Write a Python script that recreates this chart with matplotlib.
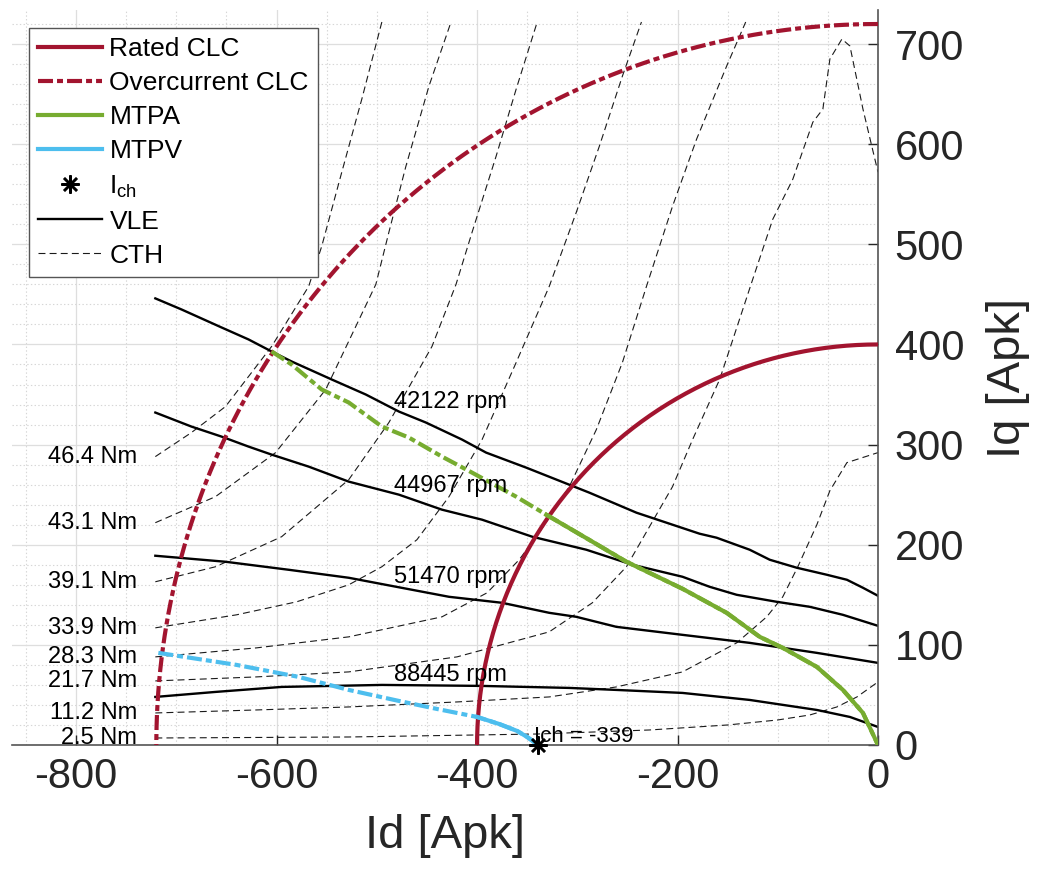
import numpy as np
import matplotlib
matplotlib.use("Agg")
import matplotlib.pyplot as plt
from matplotlib.ticker import MultipleLocator

plt.rcParams['font.family'] = ['Liberation Sans', 'DejaVu Sans']
plt.rcParams['mathtext.fontset'] = 'custom'
plt.rcParams['mathtext.rm'] = 'Liberation Sans'
plt.rcParams['mathtext.it'] = 'Liberation Sans'
plt.rcParams['lines.scale_dashes'] = False
plt.rcParams['axes.unicode_minus'] = False

# current limits [Apk]
i_rated = 400
i_over = 720

# MTPA / MTPV trajectories (Id, Iq)
mtpa_id = [-605, -585, -555, -528, -495, -468, -435, -405, -361, -331, -290, -251,
           -195, -151, -118, -95, -61, -35, -15, 0]
mtpa_iq = [393, 380, 355, 342, 318, 307, 288, 272, 248, 230, 206, 183,
           156, 132, 108, 97, 78, 55, 32, 0]

mtpv_id = [-718, -640, -578, -528, -478, -440, -400, -378, -360, -350, -339]
mtpv_iq = [92, 80, 68, 55, 44, 36, 28, 21, 14, 8, 0]

i_ch = -339

# voltage limit ellipses
vle_speed = ['42122', '44967', '51470', '88445']
vle_id = [
    [-721, -695, -655, -628, -605, -585, -545, -511, -478, -451, -415, -391, -351,
     -288, -241, -211, -178, -161, -128, -108, -81, -51, -31, -15, 0],
    [-721, -685, -655, -628, -605, -568, -528, -478, -435, -395, -345, -291, -245,
     -195, -168, -141, -101, -68, -35, 0],
    [-721, -651, -588, -528, -428, -375, -328, -301, -261, -195, -128, -61, 0],
    [-721, -661, -595, -495, -395, -308, -261, -195, -128, -61, -28, 0],
]
vle_iq = [
    [446, 435, 417, 405, 393, 383, 365, 350, 333, 322, 305, 292, 277,
     252, 232, 222, 211, 207, 195, 185, 177, 170, 165, 157, 149],
    [332, 318, 308, 298, 290, 278, 263, 250, 235, 225, 208, 195, 180,
     168, 158, 150, 143, 138, 130, 119],
    [189, 183, 175, 167, 148, 142, 132, 128, 118, 110, 102, 92, 82],
    [48, 53, 58, 60, 59, 57, 55, 52, 45, 35, 28, 18],
]
vle_label_iq = [343, 259, 168, 70]

# constant torque hyperbolas
cth_torque = ['46.4', '43.1', '39.1', '33.9', '28.3', '21.7', '11.2', '2.5']
cth_id = [
    [-721, -685, -651, -605, -568, -555, -535, -515, -495],
    [-721, -661, -601, -551, -501, -488, -471, -448, -426],
    [-721, -661, -595, -528, -488, -445, -421, -405, -381, -361, -340],
    [-721, -640, -580, -528, -495, -460, -428, -395, -361, -328, -301, -278, -255, -236],
    [-721, -620, -528, -435, -390, -358, -338, -308, -281, -255, -231, -205, -181, -151, -132],
    [-721, -620, -528, -420, -328, -285, -251, -228, -205, -185, -158, -125, -105, -85,
     -65, -55, -48, -36, -28, -15, 0],
    [-721, -620, -528, -420, -328, -261, -195, -141, -111, -95, -80, -61, -48, -31, 0],
    [-721, -528, -339, -228, -150, -100, -68, -41, -21, 0],
]
cth_iq = [
    [288, 312, 338, 398, 458, 498, 572, 645, 722],
    [222, 248, 292, 355, 460, 512, 578, 658, 722],
    [163, 178, 208, 265, 322, 398, 460, 512, 588, 655, 722],
    [117, 130, 143, 160, 178, 205, 248, 305, 382, 458, 532, 598, 668, 722],
    [88, 97, 108, 128, 152, 185, 212, 258, 315, 382, 458, 538, 605, 678, 722],
    [64, 68, 73, 88, 113, 142, 178, 218, 258, 305, 365, 465, 525, 565,
     622, 635, 685, 705, 698, 635, 572],
    [32, 35, 38, 43, 48, 58, 73, 102, 128, 148, 178, 220, 254, 282, 292],
    [7, 8, 11, 15, 20, 25, 30, 38, 48, 63],
]

red = '#A2142F'
green = '#77AC30'
blue = '#4DBEEE'
dashdot = (0, (10.8, 2.9, 4.3, 2.9))
thin_dash = (0, (5, 3))

fig = plt.figure(figsize=(10.43, 8.73), dpi=100)
ax = fig.add_axes([12 / 1043, 128 / 873, 866 / 1043, 735 / 873])

th = np.linspace(np.pi / 2, np.pi, 300)
ax.plot(i_rated * np.cos(th), i_rated * np.sin(th), color=red, lw=3,
        label='Rated CLC', zorder=3)
ax.plot(i_over * np.cos(th), i_over * np.sin(th), color=red, lw=3,
        linestyle=dashdot, label='Overcurrent CLC', zorder=3)

# MTPA / MTPV: dash-dot beyond rated current, solid inside
for tid, tiq, col, name in [(mtpa_id, mtpa_iq, green, 'MTPA'),
                            (mtpv_id, mtpv_iq, blue, 'MTPV')]:
    tid = np.array(tid)
    tiq = np.array(tiq)
    inner = np.hypot(tid, tiq) <= i_rated + 5
    ax.plot(tid, tiq, color=col, lw=3, linestyle=dashdot, zorder=4)
    ax.plot(tid[inner], tiq[inner], color=col, lw=3, label=name, zorder=4)

ax.plot([i_ch], [0], linestyle='none', marker=(8, 2, 0), ms=13, mew=1.8,
        color='k', label='I$_{\\rm ch}$', zorder=6, clip_on=False)
ax.text(i_ch - 4, 8, 'Ich = -339', fontsize=16, ha='left', va='center', zorder=6)

for k in range(len(vle_speed)):
    ax.plot(vle_id[k], vle_iq[k], color='k', lw=1.7,
            label='VLE' if k == 0 else None, zorder=2)
    ax.text(-483, vle_label_iq[k], vle_speed[k] + ' rpm', fontsize=17,
            ha='left', va='center', zorder=5)

for k in range(len(cth_torque)):
    ax.plot(cth_id[k], cth_iq[k], color='#1a1a1a', lw=0.8, linestyle=thin_dash,
            label='CTH' if k == 0 else None, zorder=1)
    ax.text(cth_id[k][0] - 18, cth_iq[k][0], cth_torque[k] + ' Nm', fontsize=17,
            ha='right', va='center', zorder=5)

ax.set_xlim(-864, 0)
ax.set_ylim(0, 734)
ax.xaxis.set_major_locator(MultipleLocator(200))
ax.xaxis.set_minor_locator(MultipleLocator(50))
ax.yaxis.set_major_locator(MultipleLocator(100))
ax.yaxis.set_minor_locator(MultipleLocator(20))
ax.yaxis.tick_right()
ax.yaxis.set_label_position('right')
ax.tick_params(which='major', direction='in', length=7, width=1, labelsize=30,
               colors='#262626')
ax.tick_params(which='minor', length=0)
ax.tick_params(axis='x', which='major', top=False, pad=9)
ax.tick_params(axis='y', which='major', left=False, pad=12)
ax.grid(which='major', color='#dedede', lw=0.9)
ax.grid(which='minor', color='#d6d6d6', lw=0.8, linestyle=':')
ax.set_axisbelow(True)
for s in ['top', 'left']:
    ax.spines[s].set_visible(False)
for s in ['bottom', 'right']:
    ax.spines[s].set_color('#555555')
    ax.spines[s].set_linewidth(1.2)

ax.set_xlabel('Id [Apk]', fontsize=34, color='#262626', labelpad=12)
ax.set_ylabel('Iq [Apk]', fontsize=34, color='#262626', labelpad=16)

leg = ax.legend(loc='upper left', bbox_to_anchor=(17 / 866, 1 - 18 / 735),
                borderaxespad=0, fontsize=19, handlelength=2.4, handletextpad=0.3,
                labelspacing=0.38, borderpad=0.35, fancybox=False, framealpha=1)
leg.get_frame().set_edgecolor('#555555')
leg.get_frame().set_linewidth(1.0)

fig.savefig('out.png', dpi=100, facecolor='white')
